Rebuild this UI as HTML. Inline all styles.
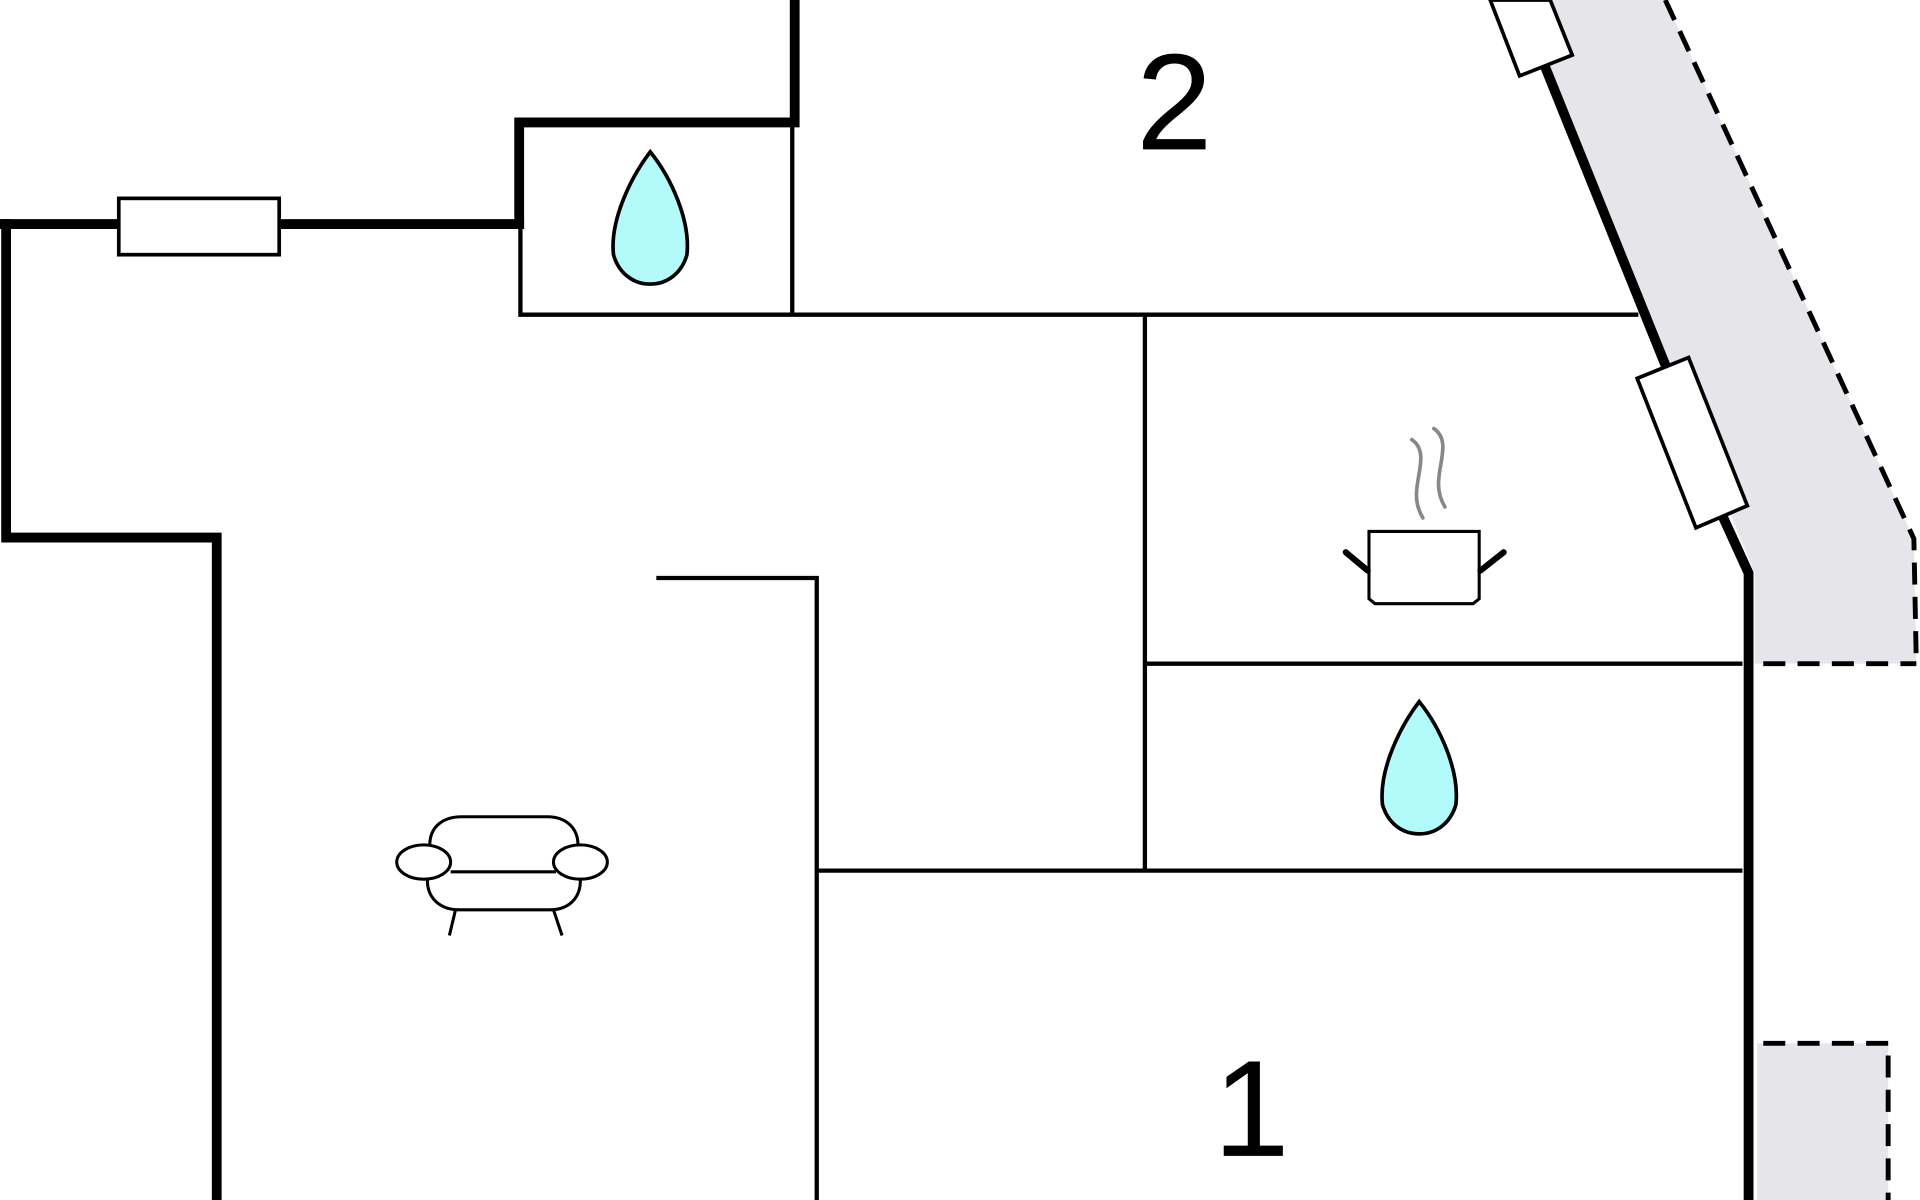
<!DOCTYPE html>
<html><head><meta charset="utf-8"><style>
html,body{margin:0;padding:0;background:#fff;}
svg{display:block}
</style></head><body>
<svg width="1920" height="1200" viewBox="0 0 1568 980" xmlns="http://www.w3.org/2000/svg">
<rect width="1568" height="980" fill="#fff"/>
<polygon points="1266,0 1360,0 1563,440 1565,542 1433,542 1433,468 1262,55" fill="#e6e6ea"/>
<rect x="1435" y="852" width="107" height="128" fill="#e6e6ea"/>
<g stroke="#000" stroke-width="4" stroke-dasharray="18,10" fill="none">
<polyline points="1360,0 1563,440 1565,542"/>
<line x1="1440" y1="542" x2="1565" y2="542"/>
<polyline points="1440,852 1542,852 1542,980"/>
</g>
<g stroke="#000" stroke-width="8" fill="none" stroke-linecap="square">
<polyline points="649,0 649,100 424,100 424,183"/>
<line x1="0" y1="183" x2="97" y2="183"/>
<line x1="228" y1="183" x2="424" y2="183"/>
<polyline points="5,183 5,439 177,439 177,980"/>
<line x1="1262" y1="55" x2="1360" y2="298"/>
<polyline points="1407,422 1428,468 1428,980"/>
</g>
<g stroke="#000" stroke-width="3.5" fill="none">
<polyline points="425,183 425,257 1338,257"/>
<line x1="647" y1="100" x2="647" y2="257"/>
<line x1="935" y1="257" x2="935" y2="711"/>
<line x1="935" y1="542" x2="1423" y2="542"/>
<line x1="667" y1="711" x2="1423" y2="711"/>
<polyline points="536,472 667,472 667,980"/>
</g>
<g stroke="#000" stroke-width="3" fill="#fff">
<rect x="97" y="162" width="131" height="46"/>
<polygon points="1217,0 1241,62 1284,45 1266,0"/>
<polygon points="1337,309 1379,292 1427,413 1385,431"/>
</g>
<g stroke="#000" stroke-width="3" fill="#b3fbfb">
<path d="M531,124 C515,145 498,180 501,208 C505,222 516,232 531,232 C546,232 557,222 561,208 C564,180 548,145 531,124 Z"/>
<path d="M1159,573 C1143,594 1126,629 1129,657 C1133,671 1144,681 1159,681 C1174,681 1185,671 1189,657 C1192,629 1176,594 1159,573 Z"/>
</g>
<g stroke="#000" stroke-width="2.5" fill="#fff">
<path d="M351,690 C351,675 362,667 377,667 L447,667 C462,667 472,676 472,690"/>
<path d="M349,719 C349,734 360,743 375,743 L449,743 C464,743 474,734 474,719"/>
<line x1="372" y1="743" x2="367" y2="764"/>
<line x1="452" y1="743" x2="459" y2="764"/>
<line x1="368" y1="712" x2="454" y2="712"/>
<ellipse cx="346" cy="704" rx="22" ry="14"/>
<ellipse cx="474" cy="704" rx="22" ry="14"/>
</g>
<g stroke="#000" stroke-width="2.5" fill="#fff">
<path d="M1118,434 L1208,434 L1208,489 L1203,493 L1123,493 L1118,489 Z"/>
</g>
<g stroke="#000" stroke-width="5" stroke-linecap="round">
<line x1="1117" y1="466" x2="1099" y2="451"/>
<line x1="1209" y1="466" x2="1228" y2="451"/>
</g>
<g stroke="#888" stroke-width="3" fill="none" stroke-linecap="round">
<path d="M1153,359 C1166,368 1158,385 1157,400 C1156,410 1159,418 1162,423"/>
<path d="M1171,350 C1184,359 1176,376 1175,391 C1174,401 1177,409 1180,414"/>
</g>
<text x="959" y="122" font-family="Liberation Sans, sans-serif" font-size="112" text-anchor="middle" fill="#000">2</text>
<text x="1022" y="944" font-family="Liberation Sans, sans-serif" font-size="112" text-anchor="middle" fill="#000">1</text>
</svg>
</body></html>
